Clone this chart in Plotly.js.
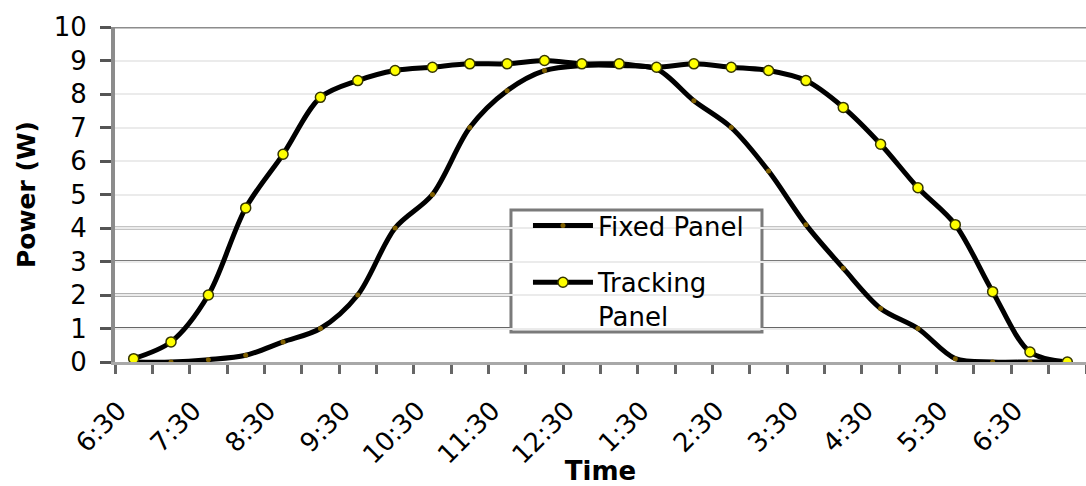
<!DOCTYPE html>
<html>
<head>
<meta charset="utf-8">
<script src="https://cdn.plot.ly/plotly-3.0.1.min.js"></script>
<style>
  html, body { margin: 0; padding: 0; background: #fff; }
  #chart { width: 1086px; height: 486px; }
</style>
</head>
<body>
<div id="chart"></div>
<script>
// Half-hourly readings over the day
const times = ['6:30', '7:00', '7:30', '8:00', '8:30', '9:00', '9:30', '10:00', '10:30',
  '11:00', '11:30', '12:00', '12:30', '1:00', '1:30', '2:00', '2:30', '3:00', '3:30',
  '4:00', '4:30', '5:00', '5:30', '6:00', '6:30', '7:00'];

// Power output in watts
const fixedPanel = [0, 0, 0.07, 0.2, 0.6, 1.0, 2.0, 4.0, 5.0, 7.0, 8.1, 8.7, 8.85,
  8.85, 8.75, 7.8, 7.0, 5.7, 4.1, 2.8, 1.6, 1.0, 0.1, 0, 0, 0];
const trackingPanel = [0.1, 0.6, 2.0, 4.6, 6.2, 7.9, 8.4, 8.7, 8.8, 8.9, 8.9, 9.0, 8.9,
  8.9, 8.8, 8.9, 8.8, 8.7, 8.4, 7.6, 6.5, 5.2, 4.1, 2.1, 0.3, 0.0];

const seriesNames = ['Fixed Panel', 'Tracking<br>Panel'];

// every other time slot gets a label; tick marks sit between slots
const xIndex = times.map((_, i) => i);
const labelIdx = xIndex.filter(i => i % 2 === 0);
const boundaries = xIndex.map(i => i - 0.5).concat([times.length - 0.5]);
const LABEL_SHIFT = 0.4; // rotated labels end a little left of the slot centre

const FONT = 'DejaVu Sans, Verdana, sans-serif';

const traces = [
  {
    x: xIndex, y: fixedPanel, name: seriesNames[0], legendgroup: 'fixed',
    type: 'scatter', mode: 'lines+markers',
    line: { color: '#000', width: 5, shape: 'spline', smoothing: 0.9 },
    marker: { symbol: 'circle', size: 5, color: '#806000' }
  },
  {
    x: xIndex, y: trackingPanel, name: seriesNames[1], legendgroup: 'tracking',
    type: 'scatter', mode: 'lines+markers',
    line: { color: '#000', width: 5, shape: 'spline', smoothing: 0.9 },
    marker: { symbol: 'circle', size: 10, color: '#ffff00',
      line: { color: '#363600', width: 1.5 } }
  }
];

// heavier rules across the lower band and the top of the plot
const ruleStyles = [
  { level: 1, color: '#666666', width: 3 },
  { level: 2, color: '#666666', width: 3 },
  { level: 3, color: '#7a7a7a', width: 3 },
  { level: 4, color: '#8a8a8a', width: 3 },
  { level: 10, color: '#8c8c8c', width: 3 }
];
const shapes = ruleStyles.map(r => ({
  type: 'line', layer: 'between', xref: 'paper', x0: 0, x1: 1,
  yref: 'y', y0: r.level, y1: r.level,
  line: { color: r.color, width: r.width }
}));
// framed white panel behind the legend entries
shapes.push({
  type: 'rect', layer: 'between', xref: 'paper', yref: 'paper',
  x0: 0.4078, x1: 0.6663, y0: 0.0896, y1: 0.4537,
  fillcolor: '#fff', line: { color: '#7a7a7a', width: 3 }
});

const layout = {
  width: 1086, height: 486,
  margin: { l: 115, r: 0, t: 27, b: 124 },
  paper_bgcolor: '#fff', plot_bgcolor: '#fff',
  font: { family: FONT, size: 26, color: '#000' },
  showlegend: true,
  legend: {
    x: 0.4253, y: 0.4776, xanchor: 'left', yanchor: 'top',
    bgcolor: 'rgba(0,0,0,0)', borderwidth: 0,
    font: { family: FONT, size: 26, color: '#000' },
    itemwidth: 60, valign: 'top', tracegroupgap: 20
  },
  shapes: shapes,
  xaxis: {
    range: [-0.5, times.length - 0.5],
    tickmode: 'array',
    tickvals: labelIdx.map(i => i - LABEL_SHIFT),
    ticktext: labelIdx.map(i => times[i]),
    tickangle: -45,
    ticks: '',
    ticklabelstandoff: 20,
    showgrid: false, zeroline: false,
    showline: true, linecolor: '#a8a8a8', linewidth: 3,
    minor: { tickmode: 'array', tickvals: boundaries, ticks: 'outside',
      ticklen: 9, tickwidth: 3, tickcolor: '#666', showgrid: false },
    tickfont: { family: FONT, size: 26, color: '#000' },
    title: { text: 'Time', font: { family: FONT, size: 26, weight: 'bold', color: '#000' }, standoff: 3 }
  },
  yaxis: {
    range: [0, 10], dtick: 1,
    ticks: 'outside', ticklen: 11, tickwidth: 3, tickcolor: '#555',
    ticklabelstandoff: 8,
    showline: true, linecolor: '#8c8c8c', linewidth: 4,
    showgrid: true, gridcolor: '#ebebeb', gridwidth: 2,
    zeroline: false,
    tickfont: { family: FONT, size: 26, color: '#000' },
    title: { text: 'Power (W)', font: { family: FONT, size: 25, weight: 'bold', color: '#000' }, standoff: 12 }
  }
};

Plotly.newPlot('chart', traces, layout, { displayModeBar: false, staticPlot: true });
</script>
</body>
</html>
